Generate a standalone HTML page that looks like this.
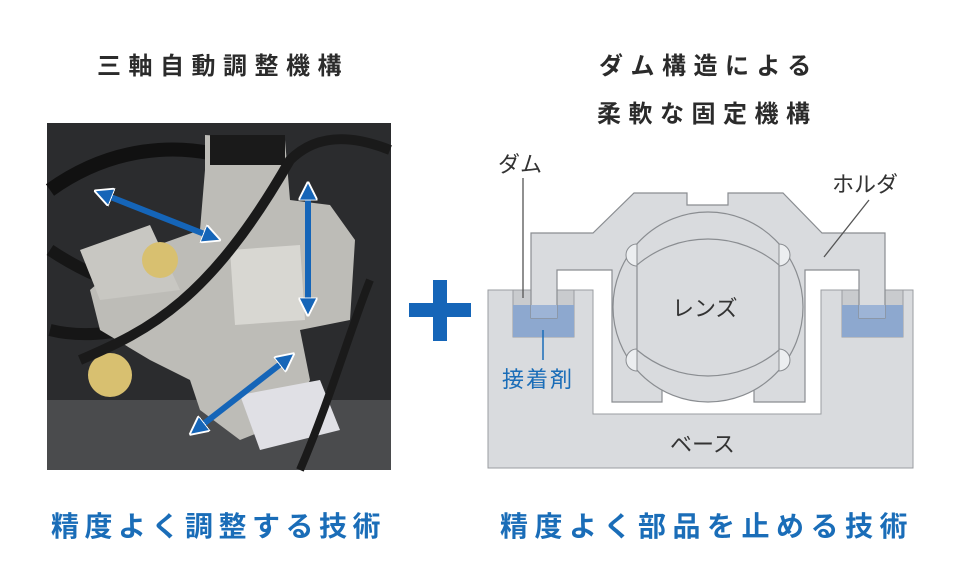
<!DOCTYPE html>
<html><head><meta charset="utf-8"><style>
html,body{margin:0;padding:0;background:#fff;}
body{width:960px;height:581px;position:relative;overflow:hidden;font-family:"Liberation Sans","Noto Sans CJK JP",sans-serif;}
.t{position:absolute;white-space:nowrap;font-weight:bold;}
.h{color:#2b2b2b;font-size:24px;letter-spacing:7.5px;}
.b{color:#1a6db8;font-size:28px;letter-spacing:5.5px;}
</style></head><body>
<div class="t h" style="left:97px;top:46px;">三軸自動調整機構</div>
<div class="t h" style="left:599px;top:46px;">ダム構造による</div>
<div class="t h" style="left:597px;top:94px;">柔軟な固定機構</div>
<div class="t b" style="left:51px;top:505px;">精度よく調整する技術</div>
<div class="t b" style="left:500px;top:505px;letter-spacing:6.5px;">精度よく部品を止める技術</div>

<svg width="960" height="581" style="position:absolute;left:0;top:0" xmlns="http://www.w3.org/2000/svg">
<defs>
<marker id="ah" viewBox="0 0 10 10" refX="5" refY="5" markerWidth="3.2" markerHeight="3.2" orient="auto-start-reverse">
<path d="M0,0 L10,5 L0,10 z" fill="#1565b8" stroke="#fff" stroke-width="1"/></marker>
</defs>
<!-- photo -->
<rect x="47" y="123" width="344" height="347" fill="#2b2c2e"/>
<rect x="47" y="400" width="344" height="70" fill="#4a4b4d"/>
<path d="M50,190 C120,140 200,140 260,170" stroke="#111" stroke-width="14" fill="none"/>
<path d="M50,250 C110,290 170,300 200,300" stroke="#161616" stroke-width="12" fill="none"/>
<path d="M50,330 C90,340 130,330 160,320" stroke="#161616" stroke-width="12" fill="none"/>
<polygon points="205,135 285,140 290,200 330,205 355,240 350,320 300,330 310,380 290,420 240,440 200,410 190,380 150,360 100,330 90,290 130,255 200,230 205,170" fill="#bdbcb7"/>
<polygon points="210,135 285,135 285,165 210,165" fill="#1a1a1a"/>
<polygon points="230,250 300,245 305,320 235,325" fill="#d8d7d2"/>
<polygon points="80,250 150,225 180,290 100,300" fill="#c8c7c2"/>
<polygon points="240,395 320,380 340,430 260,450" fill="#e0e0e5"/>
<circle cx="110" cy="375" r="22" fill="#d8c070"/>
<circle cx="160" cy="260" r="18" fill="#d8c070"/>
<path d="M80,360 C150,330 210,300 290,160 C310,140 340,130 390,150" stroke="#1a1a1a" stroke-width="10" fill="none"/>
<path d="M370,280 C350,330 330,400 300,470" stroke="#1a1a1a" stroke-width="8" fill="none"/>
<line x1="103" y1="194" x2="212" y2="237" stroke="#1565b8" stroke-width="6" marker-start="url(#ah)" marker-end="url(#ah)"/>
<line x1="308" y1="191" x2="308" y2="307" stroke="#1565b8" stroke-width="6" marker-start="url(#ah)" marker-end="url(#ah)"/>
<line x1="197" y1="429" x2="287" y2="359" stroke="#1565b8" stroke-width="6" marker-start="url(#ah)" marker-end="url(#ah)"/>
<!-- plus -->
<rect x="433" y="280" width="14" height="61" fill="#1565b8"/>
<rect x="409" y="303" width="62" height="14" fill="#1565b8"/>

<!-- base -->
<path d="M488,290 L513,290 L513,337 L574,337 L574,290 L593,290 L593,414 L821,414 L821,290 L842,290 L842,337 L903,337 L903,290 L913,290 L913,468 L488,468 Z" fill="#d9dbde" stroke="#9a9da1" stroke-width="1"/>
<rect x="513" y="290" width="61" height="47" fill="#c9cbce" stroke="#9a9da1"/>
<rect x="842" y="290" width="61" height="47" fill="#c9cbce" stroke="#9a9da1"/>
<rect x="513" y="305" width="61" height="32" fill="#8da8cf"/>
<rect x="842" y="305" width="61" height="32" fill="#8da8cf"/>
<!-- holder -->
<path d="M531,318 L531,233 L593,233 L634,193 L687,193 L687,205 L728,205 L728,193 L783,193 L822,233 L885,233 L885,318 L859,318 L859,270 L805,270 L805,402 L754,402 L754,390 L662,390 L662,402 L612,402 L612,270 L557,270 L557,318 Z" fill="#d9dbde" stroke="#8a8d91" stroke-width="1.2"/>
<rect x="531" y="305" width="26" height="13" fill="#9db4d6"/>
<rect x="859" y="305" width="26" height="13" fill="#9db4d6"/>
<circle cx="708" cy="307" r="95" fill="#d9dbde" stroke="#8a8d91" stroke-width="1.2"/>
<g fill="#eceef0" stroke="#8a8d91">
<path d="M637,244 A11,11 0 0 0 637,266 Z"/>
<path d="M779,244 A11,11 0 0 1 779,266 Z"/>
<path d="M637,349 A11,11 0 0 0 637,371 Z"/>
<path d="M779,349 A11,11 0 0 1 779,371 Z"/>
</g>
<path d="M637,265 A110,110 0 0 1 779,265 L779,350 A110,110 0 0 1 637,350 Z" fill="#d9dbde" stroke="#8a8d91" stroke-width="1.2"/>
<!-- leaders -->
<line x1="523" y1="178" x2="523" y2="298" stroke="#555" stroke-width="1.3"/>
<line x1="543" y1="330" x2="543" y2="360" stroke="#1a6db8" stroke-width="1.5"/>
<line x1="869" y1="200" x2="824" y2="257" stroke="#555" stroke-width="1.3"/>
<g font-family="Liberation Sans, Noto Sans CJK JP, sans-serif" font-size="22" fill="#333">
<text x="498" y="172">ダム</text>
<text x="832" y="192">ホルダ</text>
<text x="672" y="316">レンズ</text>
<text x="670" y="452">ベース</text>
<text x="502" y="387" fill="#1a6db8" letter-spacing="2">接着剤</text>
</g>
</svg>
</body></html>
